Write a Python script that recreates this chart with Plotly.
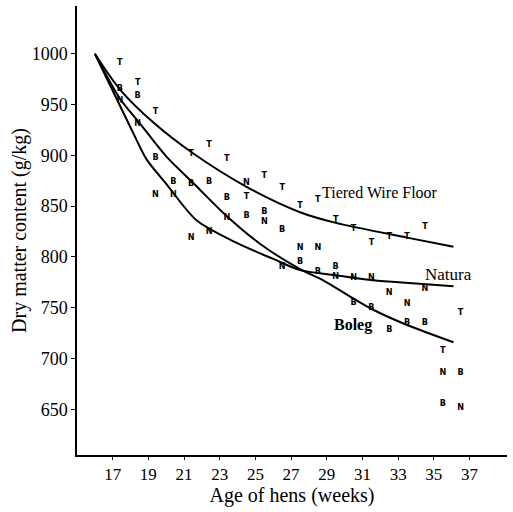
import plotly.graph_objects as go

# Observed data (letters) by week
weeks = [17.4, 18.4, 19.4, 20.4, 21.4, 22.4, 23.4, 24.5, 25.5, 26.5, 27.5, 28.5, 29.5, 30.5, 31.5, 32.5, 33.5, 34.5, 35.5, 36.5]
tiered_obs = [991, 971, 943, None, 902, 910, 897, 859, 880, 868, 850, 856, 837, 828, 814, 820, 820, 830, 708, 745]
natura_obs = [954, 931, 861, 861, 819, 825, 839, 873, 835, 790, 809, 809, 780, 779, 779, 765, 754, 769, 686, 652]
boleg_obs = [966, 959, 898, 874, 872, 874, 858, 841, 844, 827, 795, 785, 790, 755, 750, 728, 735, 735, 655, 686]

# Fitted curves
tiered_fit_x = [16, 17.4, 19.3, 21.5, 24.5, 27.5, 29.4, 33.5, 36.1]
tiered_fit_y = [1000, 965, 932, 902, 869, 844, 834, 819, 810]
natura_fit_x = [16, 18.15, 18.9, 20, 21.7, 23.8, 26, 27.5, 29.5, 31.6, 33.8, 36.1]
natura_fit_y = [1000, 922, 896, 872, 836, 815, 798, 787, 782, 777, 774, 771]
boleg_fit_x = [16, 17.4, 18.5, 20, 21.5, 23.4, 25.25, 27.5, 28.8, 30.5, 31.6, 33.5, 36.1]
boleg_fit_y = [1000, 956, 932, 899, 873, 840, 813, 788, 777, 759, 748, 733, 716]

x_ticks = [17, 19, 21, 23, 25, 27, 29, 31, 33, 35, 37]
y_ticks = [650, 700, 750, 800, 850, 900, 950, 1000]

fig = go.Figure()

for fx, fy in [(tiered_fit_x, tiered_fit_y), (natura_fit_x, natura_fit_y), (boleg_fit_x, boleg_fit_y)]:
    fig.add_trace(go.Scatter(x=fx, y=fy, mode="lines",
                             line=dict(color="black", width=2, shape="spline", smoothing=0.8),
                             showlegend=False, hoverinfo="skip"))

letter_font = dict(family="Liberation Sans Narrow, DejaVu Sans Condensed, Arial Narrow, sans-serif",
                   size=9, color="black", weight="bold")
for vals, letter in [(tiered_obs, "T"), (natura_obs, "N"), (boleg_obs, "B")]:
    xs = [w for w, v in zip(weeks, vals) if v is not None]
    ys = [v for v in vals if v is not None]
    fig.add_trace(go.Scatter(x=xs, y=ys, mode="text", text=[letter] * len(xs),
                             textposition="middle center", textfont=letter_font,
                             showlegend=False))

serif = "Liberation Serif, Times New Roman, serif"
fig.add_annotation(x=28.6, y=863, text="Tiered Wire Floor", showarrow=False,
                   xanchor="left", yanchor="middle", font=dict(family=serif, size=16, color="black"))
fig.add_annotation(x=34.4, y=783, text="Natura", showarrow=False,
                   xanchor="left", yanchor="middle", font=dict(family=serif, size=17, color="black"))
fig.add_annotation(x=29.3, y=733, text="<b>Boleg</b>", showarrow=False,
                   xanchor="left", yanchor="middle", font=dict(family=serif, size=16, color="black"))

fig.update_layout(
    width=513, height=512,
    margin=dict(l=77, r=6, t=6, b=57),
    paper_bgcolor="white", plot_bgcolor="white",
    font=dict(family=serif, color="black"),
    xaxis=dict(range=[15, 39.1], tickvals=x_ticks, ticks="outside", ticklen=3,
               tickcolor="black", showline=True, linecolor="black", linewidth=1.5,
               showgrid=False, zeroline=False, tickfont=dict(size=17),
               title=dict(text="Age of hens (weeks)", font=dict(size=20), standoff=0)),
    yaxis=dict(range=[605, 1047], tickvals=y_ticks, ticks="outside", ticklen=4,
               tickcolor="black", showline=True, linecolor="black", linewidth=1.5,
               showgrid=False, zeroline=False, tickfont=dict(size=18),
               title=dict(text="Dry matter content (g/kg)", font=dict(size=20), standoff=0)),
)

fig.write_html("out.html")
